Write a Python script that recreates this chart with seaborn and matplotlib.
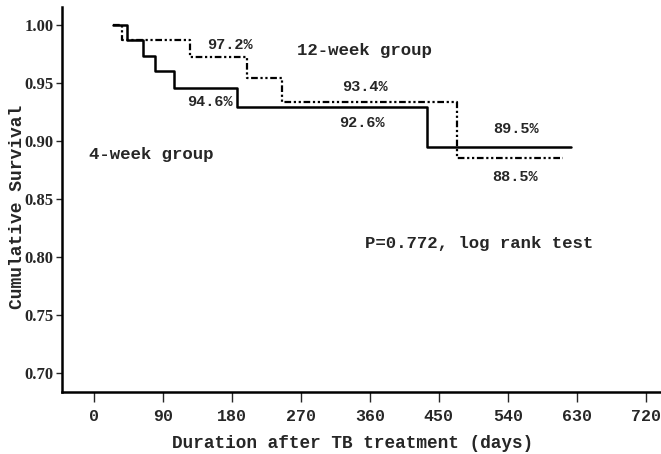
import numpy as np
import pandas as pd
import matplotlib
matplotlib.use("Agg")
import matplotlib.pyplot as plt
import seaborn as sns

# step points (days, cumulative survival)
days_4wk = [25, 43, 64, 79, 104, 187, 434, 622]
surv_4wk = [1.000, 0.987, 0.973, 0.960, 0.946, 0.929, 0.895, 0.895]
days_12wk = [25, 36, 125, 199, 245, 474, 612]
surv_12wk = [1.000, 0.987, 0.972, 0.954, 0.934, 0.885, 0.885]

x_ticks = [0, 90, 180, 270, 360, 450, 540, 630, 720]
y_ticks = [0.70, 0.75, 0.80, 0.85, 0.90, 0.95, 1.00]

# annotation texts with their data positions
pct_labels = ["97.2%", "94.6%", "93.4%", "92.6%", "89.5%", "88.5%"]
pct_x = [177, 151, 354, 349, 551, 550]
pct_y = [0.9828, 0.9336, 0.9466, 0.9155, 0.9103, 0.869]

sns.set_style("white")
plt.rcParams["font.family"] = ["Liberation Mono", "DejaVu Sans Mono"]

df4 = pd.DataFrame({"days": days_4wk, "surv": surv_4wk})
df12 = pd.DataFrame({"days": days_12wk, "surv": surv_12wk})

fig = plt.figure(figsize=(6.61, 4.54), dpi=100)
ax = fig.add_axes([62 / 661, 62 / 454, 1 - 62 / 661, (392 - 7) / 454])

sns.lineplot(data=df4, x="days", y="surv", ax=ax, color="black",
             linewidth=1.8, drawstyle="steps-post", estimator=None)
sns.lineplot(data=df12, x="days", y="surv", ax=ax, color="black",
             linewidth=1.6, drawstyle="steps-post", estimator=None,
             linestyle=(0, (3, 1.2, 1, 1.2, 1, 1.2)))

ax.set_xlim(-42, 740)
ax.set_ylim(0.6836, 1.0155)
ax.set_xticks(x_ticks)
ax.set_yticks(y_ticks)
ax.set_yticklabels([f"{v:.2f}" for v in y_ticks],
                   family="Liberation Serif", weight="bold", fontsize=12)
ax.set_xticklabels([str(v) for v in x_ticks], weight="bold", fontsize=12)

sns.despine(ax=ax)
for s in ["left", "bottom"]:
    ax.spines[s].set_linewidth(1.8)
    ax.spines[s].set_color("black")
ax.tick_params(axis="y", direction="out", length=4, width=1, left=True, pad=2)
ax.tick_params(axis="x", direction="out", length=7, width=1, bottom=True, pad=5)

ax.set_xlabel("Duration after TB treatment (days)", fontsize=12.8, weight="bold")
ax.set_ylabel("Cumulative Survival", fontsize=13, weight="bold")
ax.xaxis.set_label_coords(0.486, -0.135)
ax.yaxis.set_label_coords(-0.075, 0.48)
ax.xaxis.label.set_va("center")
ax.yaxis.label.set_va("center")

for lab, x, y in zip(pct_labels, pct_x, pct_y):
    ax.text(x, y, lab, ha="center", va="center", fontsize=11, weight="bold")

ax.text(353, 0.9784, "12-week group", ha="center", va="center",
        fontsize=12.5, weight="bold")
ax.text(75, 0.888, "4-week group", ha="center", va="center",
        fontsize=12.5, weight="bold")
ax.text(502, 0.8112, "P=0.772, log rank test", ha="center", va="center",
        fontsize=12.5, weight="bold")

fig.savefig("out.png", dpi=100)
